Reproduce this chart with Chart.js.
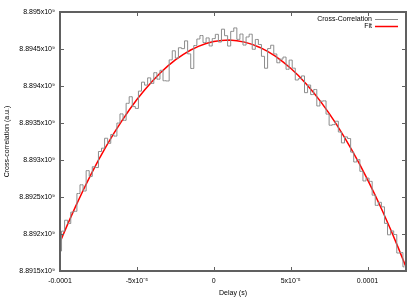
<!DOCTYPE html>
<html>
<head>
<meta charset="utf-8">
<script src="https://cdn.jsdelivr.net/npm/chart.js@4.4.0/dist/chart.umd.min.js"></script>
<style>
html, body { margin: 0; padding: 0; background: #fff; }
#wrap { width: 409px; height: 299px; }
</style>
</head>
<body>
<div id="wrap"><canvas id="cc"></canvas></div>
<script>
// delay in microseconds, one value per step of the measured curve
const delayUs = [-100, -98, -96, -94, -92, -90, -88, -86, -84, -82, -80, -78, -76, -74, -72, -70, -68, -66, -64, -62,
    -60, -58, -56, -54, -52, -50, -48, -46, -44, -42, -40, -38, -36, -34, -32, -30, -28, -26, -24, -22,
    -20, -18, -16, -14, -12, -10, -8, -6, -4, -2, 0, 2, 4, 6, 8, 10, 12, 14, 16, 18,
    20, 22, 24, 26, 28, 30, 32, 34, 36, 38, 40, 42, 44, 46, 48, 50, 52, 54, 56, 58,
    60, 62, 64, 66, 68, 70, 72, 74, 76, 78, 80, 82, 84, 86, 88, 90, 92, 94, 96, 98,
    100, 102, 104, 106, 108, 110, 112, 114, 116, 118, 120, 122, 124];
const crossCorr = [8.89177e9, 8.892039e9, 8.892186e9, 8.892142e9, 8.892295e9, 8.892307e9, 8.892547e9, 8.892665e9, 8.892581e9, 8.892856e9,
    8.892778e9, 8.892909e9, 8.892898e9, 8.893115e9, 8.89316e9, 8.893294e9, 8.893225e9, 8.893345e9, 8.893323e9, 8.893499e9,
    8.893623e9, 8.893536e9, 8.893766e9, 8.893855e9, 8.893722e9, 8.893697e9, 8.893931e9, 8.894052e9, 8.894012e9, 8.89411e9,
    8.894035e9, 8.89418e9, 8.894092e9, 8.894212e9, 8.894071e9, 8.894068e9, 8.894353e9, 8.894476e9, 8.894377e9, 8.894517e9,
    8.894505e9, 8.89461e9, 8.894434e9, 8.894237e9, 8.894547e9, 8.894635e9, 8.894682e9, 8.894587e9, 8.89465e9, 8.894541e9,
    8.894641e9, 8.894698e9, 8.894594e9, 8.894768e9, 8.89468e9, 8.89454e9, 8.894738e9, 8.894785e9, 8.89463e9, 8.894702e9,
    8.894553e9, 8.894663e9, 8.8947e9, 8.894496e9, 8.894629e9, 8.894561e9, 8.894401e9, 8.89424e9, 8.894506e9, 8.894551e9,
    8.894433e9, 8.894314e9, 8.894363e9, 8.894391e9, 8.894226e9, 8.89435e9, 8.894241e9, 8.894081e9, 8.8941e9, 8.894136e9,
    8.89391e9, 8.894013e9, 8.893884e9, 8.893953e9, 8.89373e9, 8.893795e9, 8.893799e9, 8.89362e9, 8.89347e9, 8.893478e9,
    8.893524e9, 8.893378e9, 8.893231e9, 8.893312e9, 8.89329e9, 8.893107e9, 8.892973e9, 8.893006e9, 8.892847e9, 8.892717e9,
    8.892755e9, 8.892711e9, 8.892525e9, 8.892387e9, 8.892428e9, 8.892367e9, 8.892144e9, 8.891989e9, 8.892042e9, 8.891993e9,
    8.891743e9, 8.89175e9, 8.891556e9];

// fitted curve
const fitDelayUs = [-100, -95, -90, -85, -80, -75, -70, -65, -60, -55, -50, -45, -40, -35, -30, -25, -20, -15, -10, -5,
    0, 5, 10, 15, 20, 25, 30, 35, 40, 45, 50, 55, 60, 65, 70, 75, 80, 85, 90, 95, 100, 105, 110, 115, 120, 125];
const fitVals = [8.89189e9, 8.892134e9, 8.892367e9, 8.892588e9, 8.892798e9, 8.892997e9, 8.893184e9, 8.893359e9, 8.893523e9, 8.893676e9,
    8.893817e9, 8.893947e9, 8.894065e9, 8.894172e9, 8.894268e9, 8.894352e9, 8.894425e9, 8.894486e9, 8.894535e9, 8.894574e9,
    8.894601e9, 8.894616e9, 8.89462e9, 8.894612e9, 8.894593e9, 8.894563e9, 8.894521e9, 8.894468e9, 8.894403e9, 8.894327e9,
    8.89424e9, 8.894141e9, 8.89403e9, 8.893908e9, 8.893775e9, 8.89363e9, 8.893474e9, 8.893306e9, 8.893127e9, 8.892937e9,
    8.892735e9, 8.892521e9, 8.892297e9, 8.89206e9, 8.891813e9, 8.891553e9];

const xTickVals = [-1e-4, -5e-5, 0, 5e-5, 1e-4];
const xTickLabels = ['-0.0001', '-5x10\u207B\u2075', '0', '5x10\u207B\u2075', '0.0001'];
const yTickVals = [8.8915e9, 8.892e9, 8.8925e9, 8.893e9, 8.8935e9, 8.894e9, 8.8945e9, 8.895e9];

const fontFam = '"Liberation Sans", Arial, sans-serif';
Chart.defaults.font.family = fontFam;
Chart.defaults.font.size = 7;
Chart.defaults.color = '#000';

function toPoints(xsUs, ys) {
    return xsUs.map((d, i) => ({x: d * 1e-6, y: ys[i]}));
}

// gnuplot-like frame with inward ticks on all sides, and the key
const frameAndKey = {
    id: 'frameAndKey',
    afterDatasetsDraw(chart) {
        const {ctx, chartArea: a, scales} = chart;
        ctx.save();
        ctx.strokeStyle = '#606060';
        ctx.lineWidth = 1;
        ctx.beginPath();
        xTickVals.forEach(v => {
            const x = Math.round(scales.x.getPixelForValue(v)) + 0.5;
            ctx.moveTo(x, a.bottom); ctx.lineTo(x, a.bottom - 4);
            ctx.moveTo(x, a.top); ctx.lineTo(x, a.top + 4);
        });
        yTickVals.forEach(v => {
            const y = Math.round(scales.y.getPixelForValue(v)) + 0.5;
            ctx.moveTo(a.left, y); ctx.lineTo(a.left + 4, y);
            ctx.moveTo(a.right, y); ctx.lineTo(a.right - 4, y);
        });
        ctx.stroke();
        ctx.lineWidth = 2;
        ctx.strokeRect(a.left, a.top, a.right - a.left, a.bottom - a.top);

        ctx.font = '7px ' + fontFam;
        ctx.textAlign = 'right';
        ctx.textBaseline = 'middle';
        chart.data.datasets.forEach((ds, i) => {
            const y = 19 + i * 7;
            ctx.fillStyle = '#000';
            ctx.fillText(ds.label, 372, y);
            ctx.strokeStyle = ds.borderColor;
            ctx.lineWidth = ds.borderWidth;
            ctx.beginPath();
            ctx.moveTo(375, y + 0.5);
            ctx.lineTo(398, y + 0.5);
            ctx.stroke();
        });
        ctx.restore();
    }
};

new Chart(document.getElementById('cc').getContext('2d'), {
    type: 'line',
    data: {
        datasets: [
            {
                label: 'Cross-Correlation',
                data: toPoints(delayUs, crossCorr),
                borderColor: '#8c8c8c',
                borderWidth: 1,
                stepped: 'middle',
                pointRadius: 0,
                fill: false
            },
            {
                label: 'Fit',
                data: toPoints(fitDelayUs, fitVals),
                borderColor: '#ff0000',
                borderWidth: 1.5,
                pointRadius: 0,
                tension: 0,
                fill: false
            }
        ]
    },
    options: {
        responsive: true,
        maintainAspectRatio: false,
        devicePixelRatio: 1,
        animation: false,
        layout: {padding: {top: 12, right: 3, left: 0, bottom: 0}},
        plugins: {legend: {display: false}, tooltip: {enabled: false}},
        scales: {
            x: {
                type: 'linear',
                min: -1e-4,
                max: 1.25e-4,
                afterBuildTicks: (scale) => { scale.ticks = xTickVals.map(v => ({value: v})); },
                afterFit: (scale) => { scale.height = 28; },
                grid: {display: false, drawTicks: false},
                border: {display: false},
                ticks: {
                    autoSkip: false,
                    maxRotation: 0,
                    padding: 6,
                    callback: (v, i) => xTickLabels[i]
                },
                title: {display: true, text: 'Delay (s)', padding: {top: 0, bottom: 2}}
            },
            y: {
                type: 'linear',
                min: 8.8915e9,
                max: 8.895e9,
                afterBuildTicks: (scale) => { scale.ticks = yTickVals.map(v => ({value: v})); },
                afterFit: (scale) => { scale.width = 60; },
                grid: {display: false, drawTicks: false},
                border: {display: false},
                ticks: {
                    autoSkip: false,
                    padding: 5,
                    callback: (v) => parseFloat((v / 1e9).toFixed(4)) + 'x10\u2079'
                },
                title: {display: true, text: 'Cross-correlation (a.u.)', padding: {top: 3, bottom: 0}}
            }
        }
    },
    plugins: [frameAndKey]
});
</script>
</body>
</html>
